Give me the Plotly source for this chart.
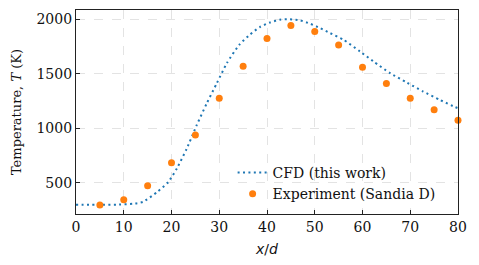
import plotly.graph_objects as go

# CFD (this work)
cfd_x = [0, 5, 9, 12, 14, 17, 19.3, 21.1, 23.2, 25.3, 27.4, 29.5, 31.6, 34.2, 36.4, 38.5,
         40.6, 42.7, 44.8, 46.9, 49, 51.1, 53.2, 56, 59.5, 62.3, 65.8, 69.3, 72.7, 76.2, 79.4, 80]
cfd_T = [300, 300, 302, 310, 326, 418, 507, 631, 815, 1031, 1230, 1414, 1597, 1765, 1857, 1927,
         1969, 1994, 1998, 1988, 1958, 1918, 1872, 1811, 1703, 1612, 1505, 1419, 1337, 1261, 1194, 1184]

# Experiment (Sandia D)
exp_x = [5, 10, 15, 20, 25, 30, 35, 40, 45, 50, 55, 60, 65, 70, 75, 80]
exp_T = [298, 347, 475, 686, 940, 1276, 1569, 1823, 1942, 1887, 1762, 1559, 1410, 1276, 1169, 1075]

x_ticks = [0, 10, 20, 30, 40, 50, 60, 70, 80]
y_ticks = [500, 1000, 1500, 2000]

serif = "DejaVu Serif"

fig = go.Figure()
fig.add_trace(go.Scatter(
    x=cfd_x, y=cfd_T, mode="lines", name="CFD (this work)",
    line=dict(color="#1f77b4", width=2, dash="2px,3.4px", shape="spline", smoothing=0.6),
))
fig.add_trace(go.Scatter(
    x=exp_x, y=exp_T, mode="markers", name="Experiment (Sandia D)",
    marker=dict(color="#ff7f0e", size=7, line=dict(width=0)),
    cliponaxis=False,
))

axis_common = dict(
    showline=True, linecolor="#222222", linewidth=1.3, mirror=True,
    ticks="inside", ticklen=4, tickwidth=1, tickcolor="#222222",
    showgrid=True, gridcolor="#e3e3e3", gridwidth=1, griddash="dash",
    zeroline=False, automargin=False,
    tickfont=dict(family=serif, size=14, color="#111111"),
)

fig.update_xaxes(
    range=[0, 80], tickvals=x_ticks, ticktext=[str(v) for v in x_ticks],
    title=dict(text="<i>x</i>/<i>d</i>", font=dict(family="DejaVu Sans", size=14, color="#111111"), standoff=10),
    **axis_common,
)
fig.update_yaxes(
    range=[216, 2083], tickvals=y_ticks, ticktext=[str(v) for v in y_ticks],
    title=dict(text="Temperature, <i>T</i> (K)", font=dict(family=serif, size=13, color="#111111"), standoff=11),
    **axis_common,
)

# page body has an 8px margin, so the figure is sized/offset to compensate
fig.update_layout(
    width=471, height=257,
    margin=dict(l=68, r=21, t=2, b=51),
    paper_bgcolor="white", plot_bgcolor="white",
    showlegend=True,
    legend=dict(
        x=0.41, y=0.28, xanchor="left", yanchor="top",
        bgcolor="rgba(255,255,255,0)", borderwidth=0,
        font=dict(family=serif, size=14, color="#111111"),
        itemwidth=30, tracegroupgap=0,
    ),
)

fig.write_html("out.html")
